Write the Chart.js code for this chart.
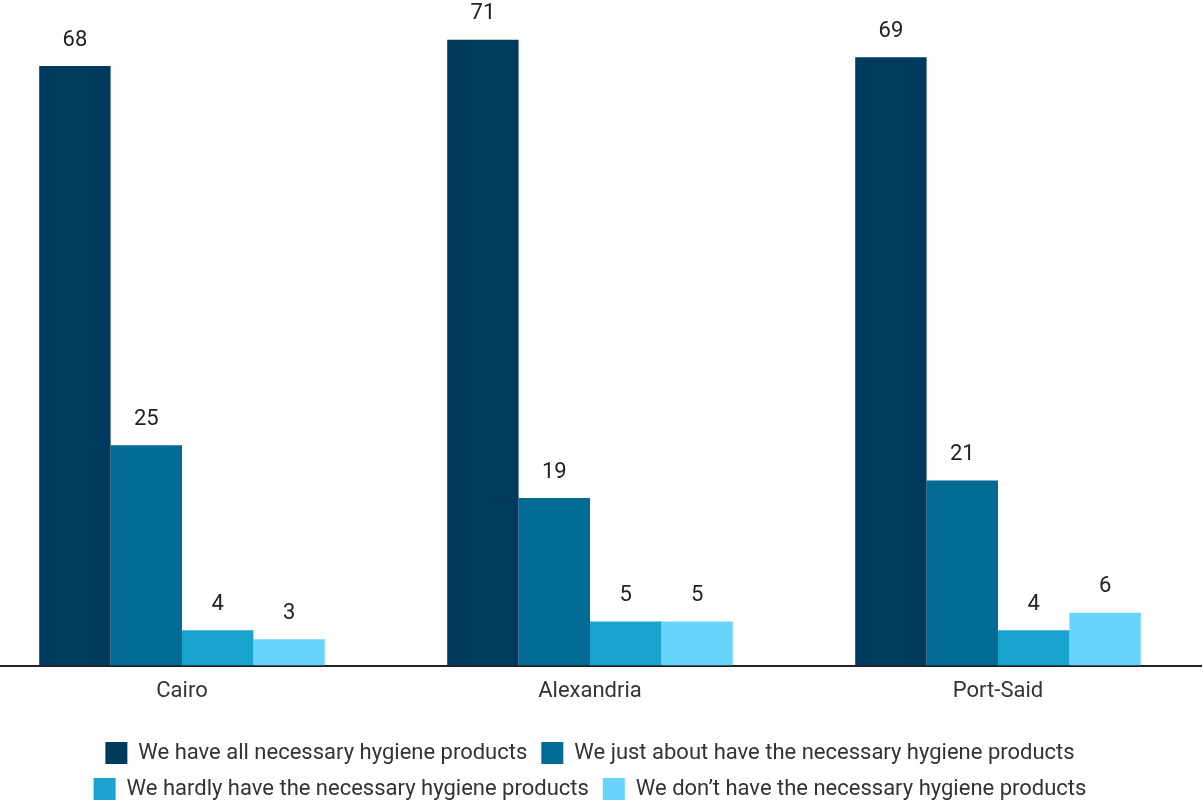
<!DOCTYPE html>
<html>
<script src="https://cdn.jsdelivr.net/npm/chart.js@4.4.0/dist/chart.umd.min.js"></script>
<body style="margin:0;background:#fff;overflow:hidden">
<div style="width:1224px;height:810px;margin-left:-22px">
<canvas id="myChart"></canvas>
</div>
<script>
    const cities = ["Cairo", "Alexandria", "Port-Said"];
    const haveAll = [68, 71, 69];
    const justAbout = [25, 19, 21];
    const hardly = [4, 5, 4];
    const dontHave = [3, 5, 6];
    const seriesNames = [
        "We have all necessary hygiene products",
        "We just about have the necessary hygiene products",
        "We hardly have the necessary hygiene products",
        "We don\u2019t have the necessary hygiene products"
    ];
    const colors = ["#003a5c", "#026b94", "#1ba3cf", "#68d6fc"];

    // value labels above every bar
    const valueLabels = {
        id: "valueLabels",
        afterDatasetsDraw(chart) {
            const ctx = chart.ctx;
            ctx.save();
            ctx.font = "22px Roboto";
            ctx.fillStyle = "#222";
            ctx.textAlign = "center";
            ctx.textBaseline = "middle";
            chart.data.datasets.forEach((ds, i) => {
                chart.getDatasetMeta(i).data.forEach((bar, j) => {
                    ctx.fillText(ds.data[j], bar.x, bar.y - 26);
                });
            });
            ctx.restore();
        }
    };

    const myChart = new Chart("myChart", {
        type: "bar",
        data: {
            labels: cities,
            datasets: [haveAll, justAbout, hardly, dontHave].map((d, i) => ({
                label: seriesNames[i],
                data: d,
                backgroundColor: colors[i],
                categoryPercentage: 0.7,
                barPercentage: 1
            }))
        },
        options: {
            responsive: true,
            maintainAspectRatio: false,
            animation: false,
            layout: {padding: 0},
            scales: {
                y: {display: false, min: 0, max: 75.5},
                x: {
                    grid: {display: false},
                    border: {color: "#222", width: 2},
                    ticks: {font: {family: "Roboto", size: 22}, color: "#333", padding: 5},
                    afterFit(scale) { scale.height += 18; }
                }
            },
            plugins: {
                tooltip: {enabled: false},
                legend: {
                    position: "bottom",
                    labels: {
                        font: {family: "Roboto", size: 22},
                        color: "#333",
                        boxWidth: 22,
                        boxHeight: 22,
                        padding: 14
                    }
                }
            }
        },
        plugins: [valueLabels]
    });
</script>
</body>
</html>
